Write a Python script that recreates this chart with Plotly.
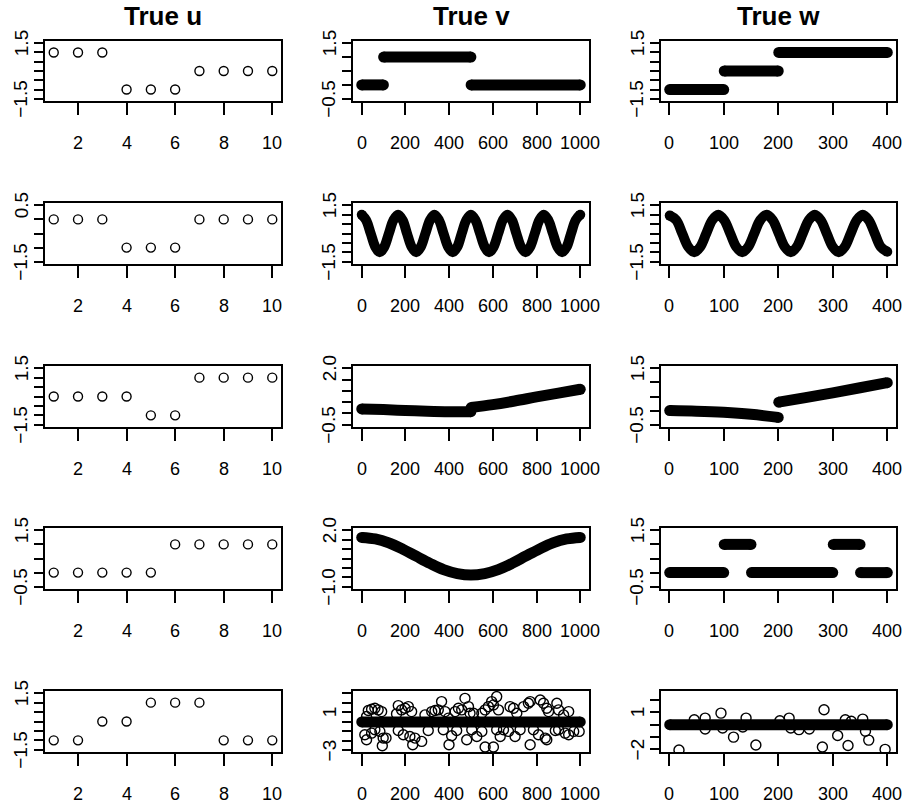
import plotly.graph_objects as go

W, H = 903, 806

# ---------------- data ----------------
u_index = [1, 2, 3, 4, 5, 6, 7, 8, 9, 10]
u1 = [1, 1, 1, -1, -1, -1, 0, 0, 0, 0]
u2 = [0, 0, 0, -1, -1, -1, 0, 0, 0, 0]
u3 = [0, 0, 0, 0, -1, -1, 1, 1, 1, 1]
u4 = [0, 0, 0, 0, 0, 1, 1, 1, 1, 1]
u5 = [-1, -1, 0, 0, 1, 1, 1, -1, -1, -1]

# piecewise-constant series: segment start, end, level
v1_start = [1, 101, 501]
v1_end = [100, 500, 1000]
v1_level = [0, 1, 0]

w1_start = [1, 101, 201]
w1_end = [100, 200, 400]
w1_level = [-1, 0, 1]

w4_start = [1, 101, 151, 301, 351]
w4_end = [100, 150, 300, 350, 400]
w4_level = [0, 1, 0, 1, 0]

# smooth series (read at knots)
v2_x = [1, 21, 42, 63, 83, 104, 125, 146, 167, 188, 208, 229, 250, 271, 292, 313,
        333, 354, 375, 396, 417, 438, 458, 479, 500, 521, 542, 563, 583, 604, 625,
        646, 667, 688, 708, 729, 750, 771, 792, 813, 833, 854, 875, 896, 917, 938,
        958, 979, 1000]
v2_y = [1, .71, 0, -.71, -1, -.71, 0, .71, 1, .71, 0, -.71, -1, -.71, 0, .71,
        1, .71, 0, -.71, -1, -.71, 0, .71, 1, .71, 0, -.71, -1, -.71, 0,
        .71, 1, .71, 0, -.71, -1, -.71, 0, .71, 1, .71, 0, -.71, -1, -.71,
        0, .71, 1]

w2_x = [1, 13, 24, 35, 46, 57, 68, 79, 90, 101, 112, 123, 134, 145, 156, 167, 179,
        190, 201, 212, 223, 234, 245, 256, 267, 278, 289, 300, 311, 322, 333, 344,
        355, 366, 377, 388, 400]
w2_y = [0.95, .71, 0, -.71, -1, -.71, 0, .71, 1, .71, 0, -.71, -1, -.71, 0, .71, 1,
        .71, 0, -.71, -1, -.71, 0, .71, 1, .71, 0, -.71, -1, -.71, 0, .71,
        1, .71, 0, -.71, -0.97]

v3a_x = [1, 100, 200, 300, 400, 500]
v3a_y = [0.20, 0.17, 0.13, 0.10, 0.08, 0.08]
v3b_x = [501, 600, 700, 800, 900, 1000]
v3b_y = [0.26, 0.39, 0.55, 0.73, 0.90, 1.07]

w3a_x = [1, 50, 100, 150, 200]
w3a_y = [0.0, -0.02, -0.06, -0.13, -0.24]
w3b_x = [201, 250, 300, 350, 400]
w3b_y = [0.30, 0.46, 0.63, 0.81, 0.99]

v4_x = [1, 63, 125, 188, 250, 313, 375, 438, 500, 563, 625, 688, 750, 813, 875, 938, 1000]
v4_y = [1.62, 1.54, 1.33, 1.00, 0.62, 0.24, -0.09, -0.30, -0.38, -0.30, -0.09, 0.24,
        0.62, 1.00, 1.33, 1.54, 1.62]

v5_band_x = [1, 1000]
v5_band_level = 0
v5_out_x = [23, 31, 46, 61, 76, 92, 15, 23, 46, 61, 84, 99, 95, 112,
            160, 168, 183, 199, 214, 229, 168, 191, 221, 234, 244, 275,
            290, 321, 336, 351, 366, 382, 397, 305, 374, 400, 412,
            428, 443, 458, 473, 489, 496, 512, 435, 481, 504, 527,
            550, 565, 580, 595, 603, 618, 626, 550, 565, 603, 618, 634, 649,
            679, 695, 710, 741, 763, 771, 672, 702, 725, 771, 786,
            817, 832, 847, 855, 893, 901, 809, 840, 847, 886, 901,
            924, 947, 931, 947, 970, 995]
v5_out_y = [0.56, 1.19, 1.33, 1.43, 1.26, 1.08, -1.35, -1.87, -1.18, -0.83, -1.00, -1.70, -2.50, -1.70,
            0.84, 1.71, 1.26, 1.43, 1.60, 1.08, -0.90, -1.35, -1.53, -2.40, -1.70, -2.05,
            0.73, 1.08, 1.19, 1.26, 2.13, 1.08, 0.39, -0.90, -0.83, -2.40, -1.46,
            1.08, 1.43, 1.26, 2.47, 1.60, 0.91, 0.91, -0.90, -1.87, -0.83, -1.53,
            0.91, 1.26, 1.60, 2.13, 1.78, 2.65, 1.26, -1.00, -2.64, -2.64, -0.83, -1.53, -0.83,
            1.60, 1.43, 0.91, 1.60, 1.95, 2.13, -1.00, -1.53, -0.83, -2.40, -0.83,
            2.30, 1.95, 1.43, 1.08, 1.95, 1.26, -1.35, -1.70, -1.87, -0.90, -0.83,
            0.73, 1.08, -1.18, -1.35, -1.00, -1.00]

w5_band_x = [1, 400]
w5_band_level = 0
w5_out_x = [18, 46, 66, 66, 95, 98, 118, 135, 141, 159, 203, 220, 223, 238, 257,
            281, 284, 309, 323, 328, 334, 355, 360, 366, 396]
w5_out_y = [-2.05, 0.40, 0.53, -0.35, 0.93, -0.27, -1.01, -0.19, 0.53, -1.65, 0.32,
            0.53, -0.27, -0.40, -0.35, -1.81, 1.20, -0.88, 0.40, -1.68, 0.27, 0.45,
            -0.53, -1.25, -2.00]

titles = ["True u", "True v", "True w"]

x_ticks = [[2, 4, 6, 8, 10], [0, 200, 400, 600, 800, 1000], [0, 100, 200, 300, 400]]
x_ranges = [[0.64, 10.36], [-39, 1040], [-15, 416]]

# y ticks (all drawn) and the labelled ones, per panel (row-major)
y_ticks = [
    [[-1.5, -1, -0.5, 0, 0.5, 1, 1.5], [-0.5, 0, 0.5, 1, 1.5], [-1.5, -1, -0.5, 0, 0.5, 1, 1.5]],
    [[-1.5, -1, -0.5, 0, 0.5], [-1.5, -1, -0.5, 0, 0.5, 1, 1.5], [-1.5, -1, -0.5, 0, 0.5, 1, 1.5]],
    [[-1.5, -1, -0.5, 0, 0.5, 1, 1.5], [-0.5, 0, 0.5, 1, 1.5, 2], [-0.5, 0, 0.5, 1, 1.5]],
    [[-0.5, 0, 0.5, 1, 1.5], [-1, -0.5, 0, 0.5, 1, 1.5, 2], [-0.5, 0, 0.5, 1, 1.5]],
    [[-1.5, -1, -0.5, 0, 0.5, 1, 1.5], [-3, -2, -1, 0, 1, 2, 3], [-2, -1, 0, 1, 2]],
]
y_labels = [
    [{1.5: "1.5", -1.5: "\u22121.5"}, {1.5: "1.5", -0.5: "\u22120.5"}, {1.5: "1.5", -1.5: "\u22121.5"}],
    [{0.5: "0.5", -1.5: "\u22121.5"}, {1.5: "1.5", -1.5: "\u22121.5"}, {1.5: "1.5", -1.5: "\u22121.5"}],
    [{1.5: "1.5", -1.5: "\u22121.5"}, {2: "2.0", -0.5: "\u22120.5"}, {1.5: "1.5", -0.5: "\u22120.5"}],
    [{1.5: "1.5", -0.5: "\u22120.5"}, {2: "2.0", -1: "\u22121.0"}, {1.5: "1.5", -0.5: "\u22120.5"}],
    [{1.5: "1.5", -1.5: "\u22121.5"}, {1: "1", -3: "\u22123"}, {1: "1", -2: "\u22122"}],
]
y_ranges = [
    [[-1.62, 1.62], [-0.58, 1.58], [-1.62, 1.62]],
    [[-1.58, 0.58], [-1.62, 1.62], [-1.62, 1.62]],
    [[-1.62, 1.62], [-0.60, 2.10], [-0.58, 1.58]],
    [[-0.58, 1.58], [-1.12, 2.12], [-0.58, 1.58]],
    [[-1.62, 1.62], [-3.16, 3.24], [-2.21, 2.72]],
]

# ---------------- layout constants (pixels) ----------------
COL_LEFT = [45, 353, 661]
COL_RIGHT = [281, 589, 896]
ROW_TOP = [41, 203, 366, 528, 691]
ROW_BOTTOM = [101, 264, 427, 589, 752]
XLAB_GAP = 42      # box bottom -> centre of x tick labels
YLAB_GAP = 24      # box left -> centre of rotated y tick labels
TITLE_Y = 16

BAND_W = 11
WAVE_W = 10
CIRCLE = dict(symbol="circle-open", size=9, color="black", line=dict(width=1.4, color="black"))
XFONT = dict(family="Liberation Sans, Arial", size=18, color="black")
YFONT = dict(family="Liberation Sans, Arial", size=19, color="black")
TFONT = dict(family="Liberation Sans, Arial", size=26, color="black")

fig = go.Figure()


def ax_names(r, c):
    n = r * 3 + c + 1
    s = "" if n == 1 else str(n)
    return "x" + s, "y" + s, "xaxis" + s, "yaxis" + s


def add_band(r, c, segs, width=BAND_W):
    xr, yr, _, _ = ax_names(r, c)
    lx, ly, ex, ey = [], [], [], []
    for sx, sy in segs:
        lx += list(sx) + [None]
        ly += list(sy) + [None]
        ex += [sx[0], sx[-1]]
        ey += [sy[0], sy[-1]]
    fig.add_trace(go.Scatter(x=lx, y=ly, mode="lines", xaxis=xr, yaxis=yr,
                             line=dict(color="black", width=width, shape="spline", smoothing=1.0),
                             hoverinfo="skip", connectgaps=False))
    fig.add_trace(go.Scatter(x=ex, y=ey, mode="markers", xaxis=xr, yaxis=yr,
                             marker=dict(symbol="circle", size=width, color="black"),
                             hoverinfo="skip"))


def add_points(r, c, xs, ys, size=9):
    xr, yr, _, _ = ax_names(r, c)
    m = dict(CIRCLE)
    m["size"] = size
    fig.add_trace(go.Scatter(x=xs, y=ys, mode="markers", xaxis=xr, yaxis=yr, marker=m))


def steps(starts, ends, levels):
    return [([s, e], [l, l]) for s, e, l in zip(starts, ends, levels)]


# column 1: u
for r, u in enumerate([u1, u2, u3, u4, u5]):
    add_points(r, 0, u_index, u)

# column 2: v
add_band(0, 1, steps(v1_start, v1_end, v1_level))
add_band(1, 1, [(v2_x, v2_y)], width=WAVE_W)
add_band(2, 1, [(v3a_x, v3a_y), (v3b_x, v3b_y)])
add_band(3, 1, [(v4_x, v4_y)])
add_points(4, 1, v5_out_x, v5_out_y, size=10)
add_band(4, 1, [(v5_band_x, [v5_band_level] * len(v5_band_x))])

# column 3: w
add_band(0, 2, steps(w1_start, w1_end, w1_level))
add_band(1, 2, [(w2_x, w2_y)], width=WAVE_W)
add_band(2, 2, [(w3a_x, w3a_y), (w3b_x, w3b_y)])
add_band(3, 2, steps(w4_start, w4_end, w4_level))
add_points(4, 2, w5_out_x, w5_out_y, size=10)
add_band(4, 2, [(w5_band_x, [w5_band_level] * len(w5_band_x))])

layout = dict(width=W, height=H, margin=dict(l=0, r=0, t=0, b=0), autosize=False,
              paper_bgcolor="white", plot_bgcolor="white", showlegend=False)
annotations = []

for r in range(5):
    for c in range(3):
        xr, yr, xk, yk = ax_names(r, c)
        xd = [COL_LEFT[c] / W, COL_RIGHT[c] / W]
        yd = [1 - ROW_BOTTOM[r] / H, 1 - ROW_TOP[r] / H]
        layout[xk] = dict(domain=xd, range=x_ranges[c], anchor=yr,
                          showline=True, linecolor="black", linewidth=1.5, mirror=True,
                          ticks="outside", ticklen=12, tickwidth=1.5, tickcolor="black",
                          tickvals=x_ticks[c], showticklabels=False,
                          showgrid=False, zeroline=False, fixedrange=True)
        layout[yk] = dict(domain=yd, range=y_ranges[r][c], anchor=xr,
                          showline=True, linecolor="black", linewidth=1.5, mirror=True,
                          ticks="outside", ticklen=9, tickwidth=1.5, tickcolor="black",
                          tickvals=y_ticks[r][c], showticklabels=False,
                          showgrid=False, zeroline=False, fixedrange=True)
        # x tick labels
        for t in x_ticks[c]:
            annotations.append(dict(text=str(t), x=t, xref=xr, y=1 - (ROW_BOTTOM[r] + XLAB_GAP) / H,
                                    yref="paper", xanchor="center", yanchor="middle",
                                    showarrow=False, font=XFONT, borderpad=0))
        # rotated y tick labels
        for v, s in y_labels[r][c].items():
            annotations.append(dict(text=s, x=(COL_LEFT[c] - YLAB_GAP) / W, xref="paper",
                                    y=v, yref=yr, xanchor="center", yanchor="middle",
                                    textangle=-90, showarrow=False, font=YFONT, borderpad=0))

for c, t in enumerate(titles):
    annotations.append(dict(text="<b>" + t + "</b>", x=(COL_LEFT[c] + COL_RIGHT[c]) / 2 / W,
                            y=1 - TITLE_Y / H, xref="paper", yref="paper", xanchor="center",
                            yanchor="middle", showarrow=False, font=TFONT, borderpad=0))
layout["annotations"] = annotations

fig.update_layout(**layout)
fig.write_html("out.html", config={"displayModeBar": False},
               post_script="document.body.style.margin='0px';document.documentElement.style.overflow='hidden';")
